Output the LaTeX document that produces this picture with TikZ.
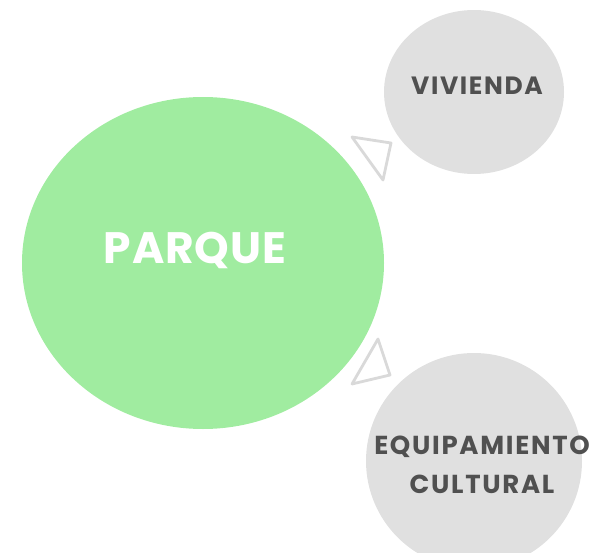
\documentclass[tikz,border=0pt]{standalone}
\usepackage{fontspec}
\setmainfont{Poppins}
\usetikzlibrary{shapes.geometric}
\definecolor{parkgreen}{RGB}{160,236,160}
\definecolor{bubblegray}{RGB}{224,224,224}
\definecolor{labelgray}{RGB}{80,80,80}
\definecolor{tricolor}{RGB}{217,217,217}
\tikzset{
  bubble/.style={ellipse, inner sep=0pt, fill=bubblegray, draw=none},
  bubbletext/.style={text=labelgray, align=center},
  trimark/.style={draw=tricolor, line width=2.8pt, line join=round, fill=white},
}
\begin{document}
\begin{tikzpicture}[x=1pt,y=-1pt]
\useasboundingbox (0,0) rectangle (591,553);
\begin{scope}
\clip (0,0) rectangle (591,553);
\node[ellipse, fill=parkgreen, minimum width=362pt, minimum height=332pt, inner sep=0pt] (parque) at (203,263) {};
\node[bubble, minimum width=180pt, minimum height=164pt] (vivienda) at (474,92) {};
\node[bubble, minimum width=216pt, minimum height=216pt] (equip) at (474,461) {};
\end{scope}
\node[text=white, font=\fontsize{44}{44}\selectfont\bfseries\addfontfeature{LetterSpace=2}] (tparque) at (195,250) {PARQUE};
\node[bubbletext, font=\fontsize{25}{25}\selectfont\bfseries\addfontfeature{LetterSpace=6.5}] (tviv) at (477,86) {VIVIENDA};
\node[bubbletext, font=\fontsize{26}{39}\selectfont\bfseries\addfontfeature{LetterSpace=6.5}] (tequip) at (482,465) {EQUIPAMIENTO\\CULTURAL};
\draw[trimark] (352,137) -- (391,143) -- (383,180) -- cycle;
\draw[trimark] (378,339) -- (390,375) -- (352,384) -- cycle;
\end{tikzpicture}
\end{document}
